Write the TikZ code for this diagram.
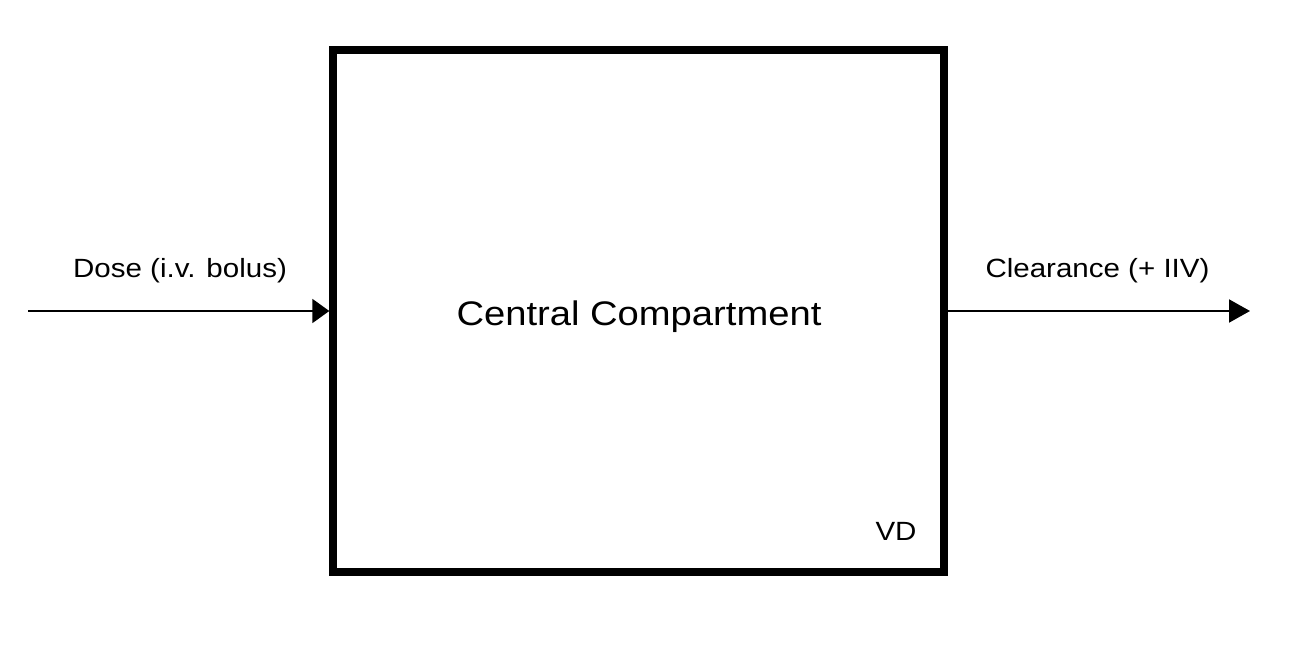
\documentclass[tikz,border=0pt]{standalone}
\usepackage{fontspec}
\setmainfont[FakeStretch=1.12]{Liberation Sans}
\usetikzlibrary{arrows.meta}
\tikzset{
  compartment/.style={draw, line width=0.15cm, minimum width=12.22cm, minimum height=10.44cm, inner sep=0},
  flowlabel/.style={anchor=base, inner sep=0, font=\fontsize{15}{18}\selectfont},
  flow/.style={line width=0.04cm}
}
\begin{document}
\begin{tikzpicture}[x=0.02cm, y=-0.02cm]
      \useasboundingbox (0,0) rectangle (1311,648);
      \node[compartment] (central) at (638.5,311) {};
      \draw
        (639,326) node[anchor=base, inner sep=0, font=\fontsize{19.4}{23}\selectfont] (name){Central Compartment}
        (896,540) node[flowlabel] (vd){VD}
        (180,278) node[flowlabel] (dose){Dose (i.v. bolus)}
        (1097.5,278) node[flowlabel] (cl){Clearance (+ IIV)};
      \coordinate (in) at (28,311);
      \coordinate (out) at (1250,311);
      \begin{scope}[flow]
        \draw[-{Triangle[length=0.34cm, width=0.48cm]}] (in) to (central.west);
        \draw[-{Triangle[length=0.42cm, width=0.46cm]}] (central.east) to (out);
      \end{scope}
    \end{tikzpicture}
\end{document}
